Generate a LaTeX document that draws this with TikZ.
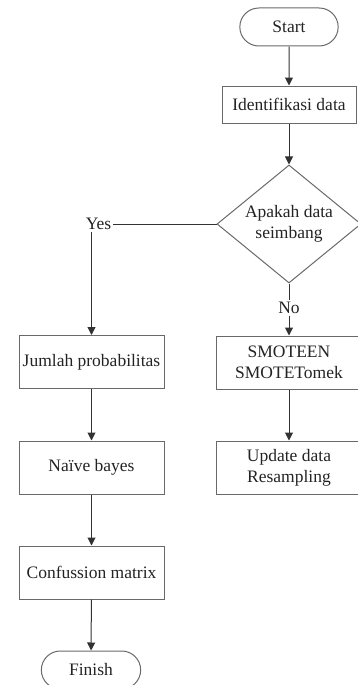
\documentclass[tikz,border=0pt]{standalone}
\usepackage{fontspec}
\setmainfont{Liberation Serif}
\usetikzlibrary{arrows.meta,positioning,shapes.geometric,shapes.misc}
\definecolor{linegray}{RGB}{50,50,50}
\definecolor{boxgray}{RGB}{105,105,105}
\definecolor{textgray}{RGB}{35,35,35}

\begin{document}
\begin{tikzpicture}[x=1pt, y=-1pt, >={Triangle[length=8pt,width=8pt]}, line width=1pt,
    font=\fontsize{17.5}{21}\selectfont, text=textgray,
    process/.style={rectangle, draw=boxgray, minimum width=145pt, minimum height=53pt, align=center},
    terminal/.style={rounded rectangle, draw=boxgray, minimum width=105pt, minimum height=38pt},
    decision/.style={diamond, draw=boxgray, aspect=1.22, minimum width=144pt, minimum height=118pt, inner sep=0pt, align=center},
    lbl/.style={inner sep=1.5pt}]
   \useasboundingbox (0,0) rectangle (358,685);
   \clip (0,0) rectangle (358,685);

   % right column
   \node[terminal] (start) at (289,27) {Start};
   \node[process, minimum width=134pt, minimum height=37pt] (ident) at (289,104.5) {Identifikasi data};
   \node[decision] (cek) at (289,224) {Apakah data\\seimbang};
   \node[lbl] (no) at (289,308) {No};
   \node[process] (smote) at (289,362.5) {SMOTEEN\\SMOTETomek};
   \node[process] (update) at (289,467.5) {Update data\\Resampling};

   % left column
   \node[lbl] (yes) at (98.5,224) {Yes};
   \node[process] (jumlah) at (91.5,362) {Jumlah probabilitas};
   \node[process] (naive) at (91.5,467.5) {Naïve bayes};
   \node[process] (confusion) at (91.5,572.5) {Confussion matrix};
   \node[terminal, minimum width=106pt] (finish) at (91,670) {Finish};

   \draw[->, linegray] (start) -- (ident);
   \draw[->, linegray] (ident) -- (cek);
   \draw[linegray] (cek.west) -- (yes.east);
   \draw[->, linegray] (yes.south -| jumlah.north) -- (jumlah.north);
   \draw[linegray] (cek.south) -- (no.north);
   \draw[->, linegray] (no.south) -- (smote.north);
   \draw[->, linegray] (smote) -- (update);
   \draw[->, linegray] (jumlah) -- (naive);
   \draw[->, linegray] (naive) -- (confusion);
   \draw[->, linegray] (confusion) -- (finish);
\end{tikzpicture}
\end{document}
